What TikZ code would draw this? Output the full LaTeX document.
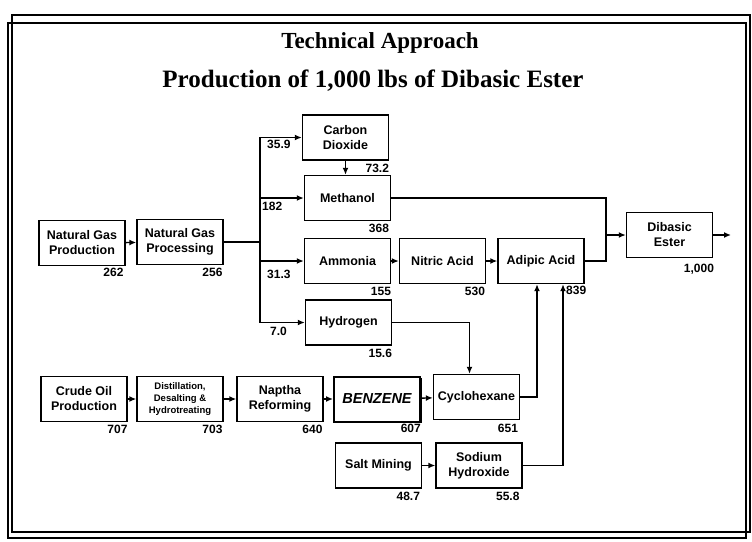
\documentclass[tikz,border=0pt]{standalone}
\usepackage{fontspec}
\setmainfont{Liberation Serif}
\setsansfont{Liberation Sans}
\usetikzlibrary{arrows.meta,shadows}

\begin{document}
\begin{tikzpicture}[x=1pt,y=-1pt,
  box/.style={draw,line width=1.4pt,minimum width=86pt,minimum height=45pt,inner sep=1pt,align=center,
    font=\sffamily\bfseries\fontsize{12.5}{15}\selectfont},
  amt/.style={inner sep=0pt,font=\sffamily\bfseries\fontsize{12}{13}\selectfont},
  arr/.style={line width=1.4pt,-{Latex[length=7pt,width=6pt]}},
  ln/.style={line width=1.4pt}]
\useasboundingbox (0,0) rectangle (752,541);
\draw[line width=1.3pt] (12,15) rectangle (750,532);
\draw[line width=1.3pt] (8,23) rectangle (746,538);
\node[anchor=base,font=\bfseries\fontsize{23}{26}\selectfont] (tech) at (380,48) {Technical Approach};
\node[anchor=base,font=\bfseries\fontsize{25}{28}\selectfont] (ttl) at (373,87) {Production of 1,000 lbs of Dibasic Ester};

\node[box] (ngprod) at (82,243) {Natural Gas\\Production};
\node[box] (ngproc) at (180,242) {Natural Gas\\Processing};
\node[box] (co2) at (345.5,137.5) {Carbon\\Dioxide};
\node[box] (meth) at (347.5,198) {Methanol};
\node[box] (ammonia) at (347.5,261) {Ammonia};
\node[box] (hyd) at (348.5,322.5) {Hydrogen};
\node[box] (nitric) at (442.5,261) {Nitric Acid};
\node[box] (adipic) at (541,261) {Adipic Acid};
\node[box] (dibasic) at (669.5,235) {Dibasic\\Ester};
\node[box] (crude) at (84,399) {Crude Oil\\Production};
\node[box,font=\sffamily\bfseries\fontsize{9.5}{12}\selectfont] (distill) at (180,399) {Distillation,\\Desalting \&\\Hydrotreating};
\node[box] (naptha) at (280,399) {Naptha\\Reforming};
\node[box,line width=2pt,fill=white,drop shadow={shadow xshift=1.5pt,shadow yshift=-1.5pt,fill=black,opacity=1},
  font=\sffamily\bfseries\itshape\fontsize{14.5}{16}\selectfont] (benz) at (377,399) {BENZENE};
\node[box] (cyclo) at (476.5,397) {Cyclohexane};
\node[box] (salt) at (378.5,465.5) {Salt Mining};
\node[box] (naoh) at (479,465.5) {Sodium\\Hydroxide};

\coordinate (split) at (260,242);
\coordinate (merge) at (606,235);
\coordinate (out) at (731,235);

\draw[arr] (ngprod) -- (ngproc);
\draw[ln] (ngproc) -- (split);
\draw[arr] (split) |- (co2);
\draw[arr] (split) |- (meth);
\draw[arr] (split) |- (ammonia);
\draw[arr] (split) |- (hyd);
\draw[arr] (co2.south) -- (co2.south |- meth.north);
\draw[ln] (meth) -| (merge);
\draw[ln] (adipic) -| (merge);
\draw[arr] (merge) -- (dibasic);
\draw[arr] (dibasic) -- (out);
\draw[arr] (ammonia) -- (nitric);
\draw[arr] (nitric) -- (adipic);
\draw[arr] (hyd) -| ([xshift=-7pt]cyclo.north);
\draw[arr] (crude) -- (distill);
\draw[arr] (distill) -- (naptha);
\draw[arr] (naptha) -- (benz);
\draw[arr] (benz) -- (cyclo);
\draw[arr] (cyclo) -| ([xshift=-4pt]adipic.south);
\draw[arr] (salt) -- (naoh);
\draw[arr] (naoh) -| ([xshift=22pt]adipic.south);

\node[amt,anchor=north west] (f359) at (267,140) {35.9};
\node[amt,anchor=north west] (f182) at (262,202) {182};
\node[amt,anchor=north west] (f313) at (267,270) {31.3};
\node[amt,anchor=north west] (f70) at (270,327) {7.0};

\node[amt,anchor=north east] (ngprod-v) at ([xshift=-2pt,yshift=-2pt]ngprod.south east) {262};
\node[amt,anchor=north east] (ngproc-v) at ([xshift=-1pt,yshift=-3pt]ngproc.south east) {256};
\node[amt,anchor=north east] (co2-v) at ([yshift=-3pt]co2.south east) {73.2};
\node[amt,anchor=north east] (meth-v) at ([xshift=-2pt,yshift=-3pt]meth.south east) {368};
\node[amt,anchor=north east] (ammonia-v) at ([yshift=-3pt]ammonia.south east) {155};
\node[amt,anchor=north east] (hyd-v) at ([yshift=-3pt]hyd.south east) {15.6};
\node[amt,anchor=north east] (nitric-v) at ([xshift=-1pt,yshift=-3pt]nitric.south east) {530};
\node[amt,anchor=north west] (adipic-v) at ([xshift=25pt,yshift=-2pt]adipic.south) {839};
\node[amt,anchor=north east] (dibasic-v) at ([xshift=1pt,yshift=-6pt]dibasic.south east) {1,000};
\node[amt,anchor=north east] (crude-v) at ([yshift=-3pt]crude.south east) {707};
\node[amt,anchor=north east] (distill-v) at ([xshift=-1pt,yshift=-3pt]distill.south east) {703};
\node[amt,anchor=north east] (naptha-v) at ([xshift=-1pt,yshift=-3pt]naptha.south east) {640};
\node[amt,anchor=north east] (benz-v) at ([yshift=-1pt]benz.south east) {607};
\node[amt,anchor=north east] (cyclo-v) at ([xshift=-2pt,yshift=-4pt]cyclo.south east) {651};
\node[amt,anchor=north east] (salt-v) at ([xshift=-2pt,yshift=-3pt]salt.south east) {48.7};
\node[amt,anchor=north east] (naoh-v) at ([xshift=-3pt,yshift=-3pt]naoh.south east) {55.8};
\end{tikzpicture}
\end{document}
